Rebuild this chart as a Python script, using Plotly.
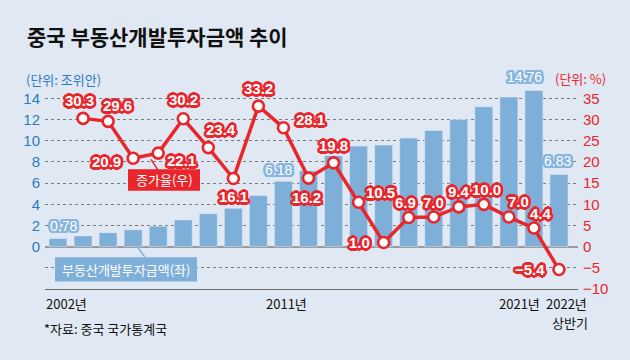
import math
import plotly.graph_objects as go

# ---------------- data ----------------
years = ["2002", "2003", "2004", "2005", "2006", "2007", "2008", "2009", "2010", "2011",
         "2012", "2013", "2014", "2015", "2016", "2017", "2018", "2019", "2020", "2021",
         "2022 상반기"]
investment = [0.78, 1.02, 1.32, 1.59, 1.94, 2.53, 3.12, 3.62, 4.83, 6.18,
              7.18, 8.60, 9.50, 9.60, 10.26, 10.98, 12.02, 13.22, 14.14, 14.76, 6.83]
growth_years = years[1:]
growth = [30.3, 29.6, 20.9, 22.1, 30.2, 23.4, 16.1, 33.2, 28.1, 16.2,
          19.8, 10.5, 1.0, 6.9, 7.0, 9.4, 10.0, 7.0, 4.4, -5.4]
labelled_bars = ["2002", "2011", "2021", "2022 상반기"]
left_ticks = [0, 2, 4, 6, 8, 10, 12, 14]
right_ticks = [-10, -5, 0, 5, 10, 15, 20, 25, 30, 35]
x_label_years = ["2002", "2011", "2021", "2022 상반기"]
x_label_line1 = ["2002년", "2011년", "2021년", "2022년"]
x_label_line2 = ["", "", "", "상반기"]

title = "중국 부동산개발투자금액 추이"
source = "*자료: 중국 국가통계국"

# ---------------- style ----------------
W, H = 630, 360
BG = "#e0e8f3"
BAR = "#7eafd9"
RED = "#e8262b"
BLUE_TXT = "#2a7dc0"
FONT = "Liberation Sans, Noto Sans CJK KR, sans-serif"
KFONT = "Noto Sans CJK KR, sans-serif"


def outline(color, r=2.6, n=16):
    parts = []
    for k in range(n):
        a = 2 * math.pi * k / n
        parts.append(f"{r*math.cos(a):.1f}px {r*math.sin(a):.1f}px 0 {color}")
    parts.append(f"0 0 1px {color}")
    return ", ".join(parts)


def px_y(py):
    return (H - py) / H


xi = {y: i for i, y in enumerate(years)}

fig = go.Figure()

fig.add_trace(go.Bar(
    x=[xi[y] for y in years], y=investment, marker_color=BAR, width=0.72,
    yaxis="y", hoverinfo="skip", showlegend=False,
))
fig.add_trace(go.Scatter(
    x=[xi[y] for y in growth_years], y=growth, yaxis="y2", mode="lines+markers",
    line=dict(color=RED, width=3.5),
    marker=dict(size=11, color="white", line=dict(color=RED, width=2.6)),
    hoverinfo="skip", showlegend=False,
))

annotations = []
# line value labels (pixel offsets from the point)
line_shift = [(-4, 18), (9, 16), (-27, -3), (23, -7), (0, 19), (13, 18), (0, -18), (0, 18),
              (27, 8), (-2, -19), (0, 17), (22, 10), (-24, 0), (-3, 15), (0, 15), (0, 15),
              (3, 15), (10, 16), (7, 15), (-29, 0)]
for yr, v, (dx, dy) in zip(growth_years, growth, line_shift):
    txt = f"{v:.1f}".replace("-", "−")
    annotations.append(dict(
        x=xi[yr], y=v, xref="x", yref="y2", text=txt, showarrow=False,
        xanchor="center", yanchor="middle", xshift=dx, yshift=dy,
        font=dict(family=FONT, size=15, color="white", weight="bold", shadow=outline(RED)),
    ))

bar_shift = {"2002": (5, 12), "2011": (-5, 11), "2021": (-9, 13), "2022 상반기": (-1, 13)}
for yr in labelled_bars:
    v = investment[xi[yr]]
    dx, dy = bar_shift[yr]
    annotations.append(dict(
        x=xi[yr], y=v, xref="x", yref="y", text=f"{v:.2f}", showarrow=False,
        xanchor="center", yanchor="middle", xshift=dx, yshift=dy,
        font=dict(family=FONT, size=14, color="white", shadow=outline("#86b5dd", r=2.4)),
    ))

# x labels
xl_pos = [("left", -14), ("center", 3), ("right", 8), ("left", -15)]
xl2_pos = [("left", -14), ("center", 3), ("right", 8), ("right", 31)]
for yr, t1, t2, (a1, d1), (a2, d2) in zip(x_label_years, x_label_line1, x_label_line2, xl_pos, xl2_pos):
    annotations.append(dict(
        x=xi[yr], y=px_y(310), xref="x", yref="paper", text=t1, showarrow=False,
        xanchor=a1, yanchor="middle", xshift=d1,
        font=dict(family=KFONT, size=13, color="#111"),
    ))
    if t2:
        annotations.append(dict(
            x=xi[yr], y=px_y(329.5), xref="x", yref="paper", text=t2, showarrow=False,
            xanchor=a2, yanchor="middle", xshift=d2,
            font=dict(family=KFONT, size=13, color="#111"),
        ))

# title, units, source
annotations += [
    dict(x=25 / W, y=px_y(37), xref="paper", yref="paper", text=f"<b>{title}</b>", showarrow=False,
         xanchor="left", yanchor="middle", font=dict(family=KFONT, size=21, color="#111")),
    dict(x=24 / W, y=px_y(81), xref="paper", yref="paper", text="(단위: 조위안)", showarrow=False,
         xanchor="left", yanchor="middle", font=dict(family=KFONT, size=13, color=BLUE_TXT)),
    dict(x=608 / W, y=px_y(80), xref="paper", yref="paper", text="(단위: %)", showarrow=False,
         xanchor="right", yanchor="middle", font=dict(family=KFONT, size=13, color=RED)),
    dict(x=42 / W, y=px_y(336), xref="paper", yref="paper", text=source, showarrow=False,
         xanchor="left", yanchor="middle", font=dict(family=KFONT, size=13, color="#111")),
    dict(x=164 / W, y=px_y(184), xref="paper", yref="paper", text="증가율(우)", showarrow=False,
         xanchor="center", yanchor="middle", font=dict(family=KFONT, size=13, color="white")),
    dict(x=126 / W, y=px_y(275.5), xref="paper", yref="paper", text="부동산개발투자금액(좌)", showarrow=False,
         xanchor="center", yanchor="middle", font=dict(family=KFONT, size=13, color="white")),
]

shapes = [
    dict(type="line", xref="paper", yref="paper", x0=151 / W, y0=px_y(163), x1=158 / W, y1=px_y(174),
         line=dict(color=RED, width=1.5)),
    dict(type="rect", xref="paper", yref="paper", x0=128 / W, y0=px_y(173), x1=200 / W, y1=px_y(195),
         fillcolor=RED, line=dict(width=0)),
    dict(type="line", xref="paper", yref="paper", x0=137 / W, y0=px_y(252), x1=145 / W, y1=px_y(263),
         line=dict(color=BAR, width=1.5)),
    dict(type="rect", xref="paper", yref="paper", x0=55 / W, y0=px_y(263), x1=197 / W, y1=px_y(288),
         fillcolor=BAR, line=dict(width=0)),
]

y_lo, y_hi = -4, 15.6
fig.update_layout(
    width=W, height=H, margin=dict(l=0, r=0, t=0, b=0),
    paper_bgcolor=BG, plot_bgcolor=BG,
    bargap=0, showlegend=False,
    xaxis=dict(domain=[45 / W, 578 / W], range=[-0.52, 20.76], showticklabels=False,
               showgrid=False, zeroline=False, showline=True, linecolor="#6e6e6e", linewidth=1.2,
               ticks=""),
    yaxis=dict(domain=[px_y(295.6), px_y(83.4)], range=[y_lo, y_hi],
               tickvals=[-2] + left_ticks, ticktext=[""] + [str(t) for t in left_ticks],
               showgrid=True, gridcolor="#7a7a7a", griddash="dot", gridwidth=1,
               zeroline=True, zerolinecolor="#9a9a9a", zerolinewidth=2,
               tickfont=dict(family=FONT, size=15, color=BLUE_TXT), ticks="", ticklabelstandoff=4),
    yaxis2=dict(overlaying="y", side="right", range=[y_lo * 2.5, y_hi * 2.5],
                tickvals=right_ticks, showgrid=False, zeroline=False,
                tickfont=dict(family=FONT, size=15, color=RED), ticks="", ticklabelstandoff=4),
    annotations=annotations, shapes=shapes,
)

page_css = ("var s='margin:0;padding:0;overflow:hidden;width:630px;height:360px;';"
            "document.documentElement.style.cssText=s;document.body.style.cssText=s;")
fig.write_html("out.html", config=dict(displayModeBar=False, staticPlot=True), post_script=page_css)
